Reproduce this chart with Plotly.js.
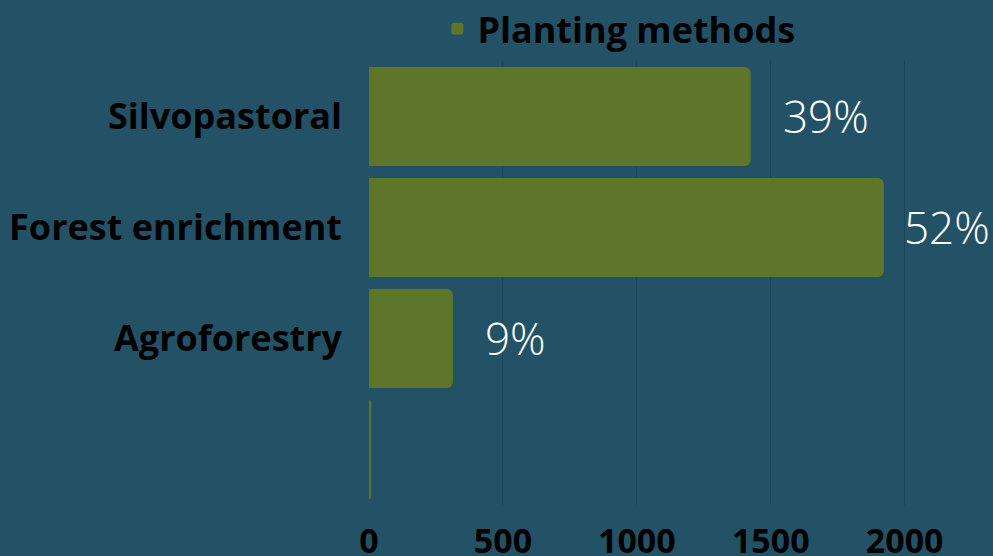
<!DOCTYPE html>
<html>
<head>
<meta charset="utf-8">
<script src="https://cdn.plot.ly/plotly-3.0.1.min.js"></script>
<style>
html,body{margin:0;padding:0;background:#235266;}
#chart{width:993px;height:556px;}
</style>
</head>
<body>
<div id="chart"></div>
<script>
const categories = ["Silvopastoral", "Forest enrichment", "Agroforestry", " "];
const values = [1425, 1922, 313, 8];
const percentLabels = ["39%", "52%", "9%", ""];
const seriesName = "Planting methods";
const xTicks = [0, 500, 1000, 1500, 2000];

const bg = "#235266";
const barColor = "#5d762a";

const W = 993, H = 556;
const margin = {l: 369, r: 8, t: 61, b: 51, autoexpand: false};
const xMax = 2300;
const pxPerUnit = (W - margin.l - margin.r) / xMax;
const labelWidth = 88, gap = 30;

const trace = {
  type: "bar",
  orientation: "h",
  y: categories,
  x: values,
  name: seriesName,
  marker: {color: barColor},
  showlegend: true,
  hoverinfo: "skip"
};

const annotations = categories.map((c, i) => {
  const endPx = margin.l + values[i] * pxPerUnit;
  const shift = Math.min(gap, W - 3 - labelWidth - endPx);
  return {
    x: values[i], y: c, xref: "x", yref: "y",
    text: percentLabels[i], showarrow: false,
    xanchor: "left", xshift: shift, yshift: 1,
    font: {family: "Open Sans", size: 44, color: "#ffffff", weight: 300}
  };
});

const layout = {
  width: W, height: H,
  paper_bgcolor: bg, plot_bgcolor: bg,
  margin: margin,
  bargap: 0.11,
  barcornerradius: 6,
  font: {family: "Open Sans", color: "#000000"},
  xaxis: {
    range: [0, xMax],
    tickvals: xTicks,
    ticktext: xTicks.map(String),
    showgrid: true, gridcolor: "#1c4556", gridwidth: 1,
    zeroline: false, showline: false,
    tickfont: {family: "Open Sans", size: 34, color: "#000000", weight: 700},
    ticks: "", ticklabelstandoff: 13, fixedrange: true, automargin: false
  },
  yaxis: {
    type: "category",
    autorange: "reversed",
    showgrid: false, zeroline: false, showline: false,
    tickfont: {family: "Open Sans", size: 36, color: "#000000", weight: 700},
    ticks: "", ticklabelstandoff: 26, automargin: false
  },
  showlegend: true,
  legend: {
    orientation: "h",
    x: 0.111, xanchor: "left",
    y: 1.005, yanchor: "bottom",
    font: {family: "Open Sans", size: 36, color: "#000000", weight: 700},
    bgcolor: "rgba(0,0,0,0)", itemwidth: 30
  },
  annotations: annotations
};

Plotly.newPlot("chart", [trace], layout, {displayModeBar: false, staticPlot: true});
</script>
</body>
</html>
